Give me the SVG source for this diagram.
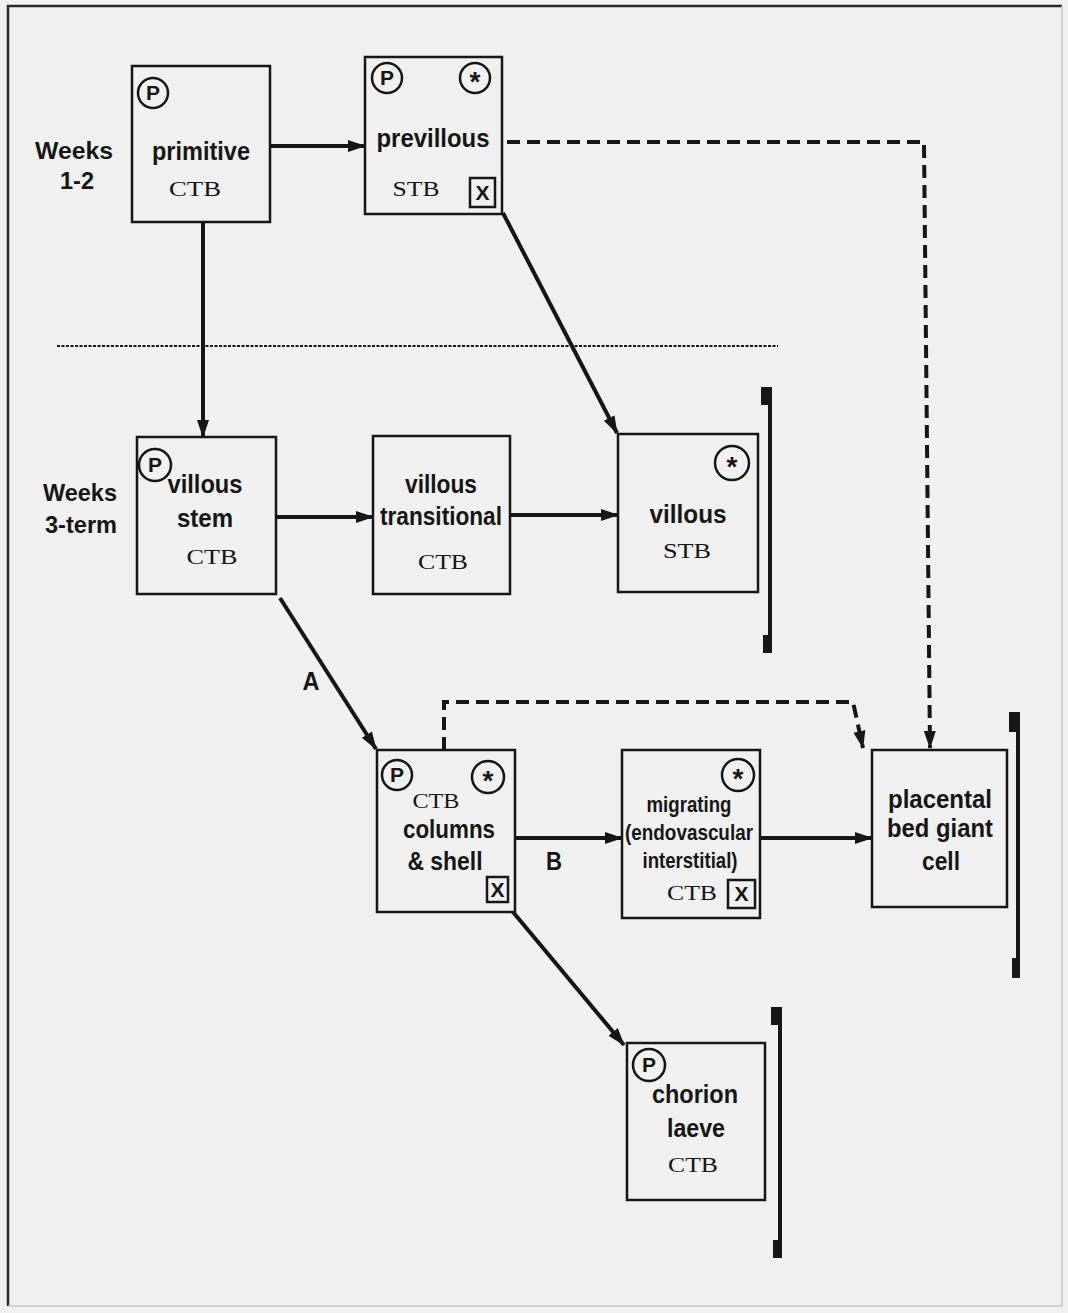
<svg xmlns="http://www.w3.org/2000/svg" width="1068" height="1313" viewBox="0 0 1068 1313">
<style>
.box{fill:none;stroke:#161616;stroke-width:2.5}
.lbl{font-family:"Liberation Sans",Arial,sans-serif;font-weight:bold;font-size:26px;fill:#161616;text-anchor:middle}
.wk{font-size:24px}
.sm{font-size:22px}
.ser{font-family:"Liberation Serif","Times New Roman",serif;font-size:22px;fill:#161616;text-anchor:middle}
.circ{fill:none;stroke:#161616;stroke-width:2.5}
.mk{font-family:"Liberation Sans",Arial,sans-serif;font-weight:bold;font-size:21px;fill:#161616;text-anchor:middle}
.st{font-size:28px}
.ar{fill:none;stroke:#161616;stroke-width:4;marker-end:url(#ah)}
.da{fill:none;stroke:#161616;stroke-width:4;stroke-dasharray:13 7;marker-end:url(#ah)}
.br{stroke:#161616;stroke-width:4}
.brc{fill:#161616}
</style>
<defs>
<marker id="ah" markerUnits="userSpaceOnUse" markerWidth="18" markerHeight="14" refX="17" refY="7" orient="auto">
<path d="M0,1 L18,7 L0,13 Z" fill="#161616"/>
</marker>
</defs>
<rect x="0" y="0" width="1068" height="1313" fill="#f1f1f1"/>
<path d="M8,1306 L8,6 L1062,6" fill="none" stroke="#2a2a2a" stroke-width="2.5"/>
<path d="M1062,6 L1062,1306 L8,1306" fill="none" stroke="#c8c8c8" stroke-width="1.5"/>

<g id="period-labels">
<text class="lbl wk" x="74" y="159" textLength="78" lengthAdjust="spacingAndGlyphs">Weeks</text>
<text class="lbl wk" x="77" y="189" textLength="34" lengthAdjust="spacingAndGlyphs">1-2</text>
<text class="lbl wk" x="80" y="501" textLength="74" lengthAdjust="spacingAndGlyphs">Weeks</text>
<text class="lbl wk" x="81" y="533" textLength="72" lengthAdjust="spacingAndGlyphs">3-term</text>
</g>
<line x1="57" y1="346" x2="778" y2="346" stroke="#161616" stroke-width="2" stroke-dasharray="3 1.5"/>

<g id="connectors">
<path class="ar" d="M271,146 L365,146"/>
<path class="ar" d="M203,223 L203,437"/>
<path class="ar" d="M503,213 L617,433"/>
<path class="ar" d="M276,517 L373,517"/>
<path class="ar" d="M510,515 L618,515"/>
<path class="ar" d="M280,598 L376,749"/>
<path class="ar" d="M515,838 L622,838"/>
<path class="ar" d="M760,838 L872,838"/>
<path class="ar" d="M513,912 L624,1045"/>
<path class="da" d="M507,142 L924,142 L930,748"/>
<path class="da" d="M444,750 L444,702 L853,702 L863,748"/>
<text class="lbl" x="311" y="690" textLength="17" lengthAdjust="spacingAndGlyphs">A</text>
<text class="lbl" x="554" y="870" textLength="16" lengthAdjust="spacingAndGlyphs">B</text>
</g>

<g id="primitive">
<rect class="box" x="132" y="66" width="138" height="156"/>
<circle class="circ" cx="153" cy="93" r="15"/><text class="mk" x="153" y="100">P</text>
<text class="lbl" x="201" y="160" textLength="98" lengthAdjust="spacingAndGlyphs">primitive</text>
<text class="ser" x="195" y="196" textLength="52" lengthAdjust="spacingAndGlyphs">CTB</text>
</g>

<g id="previllous">
<rect class="box" x="365" y="57" width="137" height="157"/>
<circle class="circ" cx="387" cy="78" r="15"/><text class="mk" x="387" y="85">P</text>
<circle class="circ" cx="475" cy="78" r="15"/><text class="mk st" x="475" y="91">*</text>
<text class="lbl" x="433" y="147" textLength="113" lengthAdjust="spacingAndGlyphs">previllous</text>
<text class="ser" x="416" y="196" textLength="47" lengthAdjust="spacingAndGlyphs">STB</text>
<rect class="box" x="470" y="178" width="25" height="29"/><text class="mk" x="482.5" y="200">X</text>
</g>

<g id="villous-stem">
<rect class="box" x="137" y="437" width="139" height="157"/>
<circle class="circ" cx="155" cy="465" r="16"/><text class="mk" x="155" y="472">P</text>
<text class="lbl" x="205" y="493" textLength="75" lengthAdjust="spacingAndGlyphs">villous</text>
<text class="lbl" x="205" y="527" textLength="56" lengthAdjust="spacingAndGlyphs">stem</text>
<text class="ser" x="212" y="564" textLength="51" lengthAdjust="spacingAndGlyphs">CTB</text>
</g>

<g id="villous-transitional">
<rect class="box" x="373" y="436" width="137" height="158"/>
<text class="lbl" x="441" y="493" textLength="72" lengthAdjust="spacingAndGlyphs">villous</text>
<text class="lbl" x="441" y="525" textLength="122" lengthAdjust="spacingAndGlyphs">transitional</text>
<text class="ser" x="443" y="569" textLength="50" lengthAdjust="spacingAndGlyphs">CTB</text>
</g>

<g id="villous">
<rect class="box" x="618" y="434" width="140" height="158"/>
<circle class="circ" cx="732" cy="463" r="17"/><text class="mk st" x="732" y="476">*</text>
<text class="lbl" x="688" y="523" textLength="77" lengthAdjust="spacingAndGlyphs">villous</text>
<text class="ser" x="687" y="558" textLength="48" lengthAdjust="spacingAndGlyphs">STB</text>
</g>

<g id="columns-shell">
<rect class="box" x="377" y="750" width="138" height="162"/>
<circle class="circ" cx="397" cy="775" r="15"/><text class="mk" x="397" y="782">P</text>
<circle class="circ" cx="488" cy="777" r="16"/><text class="mk st" x="488" y="790">*</text>
<text class="ser" x="436" y="808" textLength="47" lengthAdjust="spacingAndGlyphs">CTB</text>
<text class="lbl" x="449" y="838" textLength="92" lengthAdjust="spacingAndGlyphs">columns</text>
<text class="lbl" x="445" y="870" textLength="75" lengthAdjust="spacingAndGlyphs">&amp; shell</text>
<rect class="box" x="487" y="877" width="21" height="25"/><text class="mk" x="497.5" y="897">X</text>
</g>

<g id="migrating">
<rect class="box" x="622" y="750" width="138" height="168"/>
<circle class="circ" cx="738" cy="775" r="16"/><text class="mk st" x="738" y="788">*</text>
<text class="lbl sm" x="689" y="812" textLength="85" lengthAdjust="spacingAndGlyphs">migrating</text>
<text class="lbl sm" x="689" y="840" textLength="128" lengthAdjust="spacingAndGlyphs">(endovascular</text>
<text class="lbl sm" x="690" y="868" textLength="95" lengthAdjust="spacingAndGlyphs">interstitial)</text>
<text class="ser" x="692" y="900" textLength="50" lengthAdjust="spacingAndGlyphs">CTB</text>
<rect class="box" x="728" y="880" width="27" height="28"/><text class="mk" x="741.5" y="901">X</text>
</g>

<g id="placental-bed-giant-cell">
<rect class="box" x="872" y="750" width="135" height="157"/>
<text class="lbl" x="940" y="808" textLength="104" lengthAdjust="spacingAndGlyphs">placental</text>
<text class="lbl" x="940" y="837" textLength="106" lengthAdjust="spacingAndGlyphs">bed giant</text>
<text class="lbl" x="941" y="870" textLength="38" lengthAdjust="spacingAndGlyphs">cell</text>
</g>

<g id="chorion-laeve">
<rect class="box" x="627" y="1043" width="138" height="157"/>
<circle class="circ" cx="649" cy="1065" r="16"/><text class="mk" x="649" y="1072">P</text>
<text class="lbl" x="695" y="1103" textLength="86" lengthAdjust="spacingAndGlyphs">chorion</text>
<text class="lbl" x="696" y="1137" textLength="58" lengthAdjust="spacingAndGlyphs">laeve</text>
<text class="ser" x="693" y="1172" textLength="50" lengthAdjust="spacingAndGlyphs">CTB</text>
</g>

<g id="brackets">
<line class="br" x1="770" y1="387" x2="770" y2="653"/>
<rect class="brc" x="761" y="387" width="11" height="18"/>
<rect class="brc" x="763" y="635" width="9" height="18"/>
<line class="br" x1="1018" y1="712" x2="1018" y2="978"/>
<rect class="brc" x="1009" y="712" width="11" height="20"/>
<rect class="brc" x="1012" y="958" width="8" height="20"/>
<line class="br" x1="780" y1="1007" x2="780" y2="1258"/>
<rect class="brc" x="771" y="1007" width="11" height="18"/>
<rect class="brc" x="773" y="1240" width="9" height="18"/>
</g>
</svg>
